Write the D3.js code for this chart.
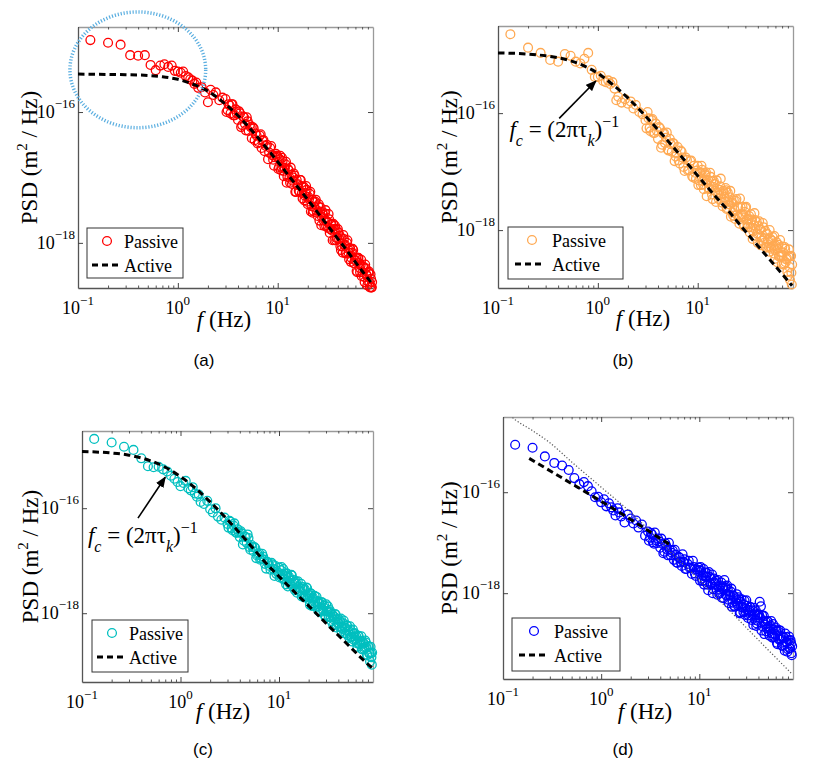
<!DOCTYPE html>
<html>
<head>
<meta charset="utf-8">
<script src="https://cdnjs.cloudflare.com/ajax/libs/d3/7.8.5/d3.min.js"></script>
<style>
  body { margin: 0; background: #fff; }
  svg { display: block; }
</style>
</head>
<body>
<div id="container"></div>
<script>
// frequency bins (Hz), shared by the four spectra
const freqHz = [
  0.133, 0.2, 0.267, 0.333, 0.4, 0.467, 0.533, 0.6, 0.667, 0.733, 0.8, 0.867, 0.933,
  1.0, 1.07, 1.13, 1.2, 1.27, 1.33, 1.4, 1.47, 1.53, 1.6, 1.73, 1.87, 2.0, 2.13, 2.27, 2.4, 2.6, 2.8,
  3.0, 3.15, 3.3, 3.45, 3.6, 3.8, 4.0, 4.2, 4.4, 4.6, 4.8, 5.0, 5.25, 5.5, 5.75, 6.0, 6.3, 6.6, 6.9, 7.2, 7.6, 8.0, 8.4, 8.8, 9.2, 9.6,
  10, 10.3, 10.6, 10.9, 11.2, 11.5, 11.8, 12.1, 12.5, 12.9, 13.3, 13.7, 14.1, 14.5, 15, 15.5, 16, 16.5, 17, 17.5,
  18, 18.5, 19, 19.5, 20, 20.6, 21.2, 21.8, 22.4, 23, 23.7, 24.4, 25.1, 25.8, 26.5, 27.3, 28.1, 28.9, 29.7, 30.5,
  31.4, 32.3, 33.2, 34.1, 35, 36, 37, 38, 39, 40, 41.2, 42.4, 43.6, 44.8, 46, 47.3, 48.6, 49.9, 51.2, 52.5,
  54, 55.5, 57, 58.5, 60, 61.7, 63.4, 65.1, 66.8, 68.5, 70.4, 72.3, 74.2, 76.1, 78, 80, 82, 84, 86, 87.5
];
// the denser bins in between, above 3 Hz
const freqFillHz = [
  3.07, 3.22, 3.37, 3.52, 3.7, 3.9, 4.1, 4.3, 4.5, 4.7, 4.9, 5.12, 5.37, 5.62, 5.87, 6.15, 6.45, 6.75, 7.05, 7.4, 7.8, 8.2, 8.6, 9.0, 9.4, 9.8,
  10.15, 10.45, 10.75, 11.05, 11.35, 11.65, 11.95, 12.3, 12.7, 13.1, 13.5, 13.9, 14.3, 14.75, 15.25, 15.75, 16.25, 16.75, 17.25, 17.75,
  18.25, 18.75, 19.25, 19.75, 20.3, 20.9, 21.5, 22.1, 22.7, 23.35, 24.05, 24.75, 25.45, 26.15, 26.9, 27.7, 28.5, 29.3, 30.1, 30.95,
  31.85, 32.75, 33.65, 34.55, 35.5, 36.5, 37.5, 38.5, 39.5, 40.6, 41.8, 43, 44.2, 45.4, 46.65, 47.95, 49.25, 50.55, 51.85, 53.25,
  54.75, 56.25, 57.75, 59.25, 60.85, 62.55, 64.25, 65.95, 67.65, 69.45, 71.35, 73.25, 75.15, 77.05, 79, 81, 83, 85, 86.75, 88.2
];

// passive PSD, log10 of m^2/Hz
const passiveA = [
  -14.90, -14.94, -14.97, -15.13, -15.14, -15.13, -15.28, -15.36, -15.29, -15.27, -15.31, -15.29, -15.37,
  -15.38, -15.40, -15.38, -15.45, -15.47, -15.50, -15.52, -15.57, -15.55, -15.63, -15.62, -15.70, -15.85, -15.66, -15.74, -15.70, -15.82, -15.78,
  -15.80, -15.97, -15.90, -15.88, -16.05, -15.96, -16.12, -16.02, -16.20, -16.08, -16.28, -16.14, -16.20, -16.40, -16.25, -16.33, -16.48, -16.36, -16.55, -16.43, -16.52, -16.72, -16.55, -16.66, -16.82, -16.64,
  -16.69, -16.84, -16.67, -16.84, -16.75, -16.98, -16.86, -16.76, -16.99, -16.89, -17.08, -16.96, -17.05, -16.94, -17.22, -17.04, -17.12, -17.22, -17.04, -17.24,
  -17.14, -17.35, -17.24, -17.19, -17.41, -17.33, -17.22, -17.44, -17.54, -17.38, -17.37, -17.50, -17.59, -17.41, -17.52, -17.73, -17.53, -17.66, -17.55, -17.74,
  -17.68, -17.56, -17.85, -17.72, -17.81, -17.71, -17.96, -17.79, -17.93, -17.79, -17.94, -18.05, -17.93, -18.15, -17.94, -18.03, -18.15, -17.96, -18.15, -18.08,
  -18.29, -18.15, -18.11, -18.31, -18.27, -18.43, -18.23, -18.31, -18.45, -18.26, -18.45, -18.37, -18.60, -18.39, -18.50, -18.59, -18.44, -18.68, -18.55, -18.68
];
const passiveFillA = [
  -16.00, -15.88, -16.02, -15.88, -16.05, -16.02, -15.99, -16.23, -16.07, -16.18, -16.08, -16.29, -16.23, -16.23, -16.43, -16.36, -16.46, -16.34, -16.44, -16.60, -16.50, -16.62, -16.52, -16.73, -16.69, -16.67,
  -16.87, -16.72, -16.89, -16.70, -16.90, -16.85, -16.80, -17.08, -16.87, -17.00, -16.85, -17.10, -17.00, -16.97, -17.22, -17.10, -17.20, -17.04, -17.13, -17.32,
  -17.15, -17.28, -17.13, -17.37, -17.30, -17.25, -17.52, -17.34, -17.51, -17.45, -17.34, -17.54, -17.44, -17.66, -17.46, -17.60, -17.57, -17.74, -17.50, -17.67,
  -17.77, -17.64, -17.79, -17.71, -17.96, -17.79, -17.74, -17.96, -17.92, -17.84, -17.89, -18.11, -18.05, -17.88, -18.04, -18.16, -18.00, -18.09, -18.25, -18.09,
  -18.23, -18.09, -18.31, -18.26, -18.23, -18.45, -18.23, -18.38, -18.34, -18.51, -18.36, -18.52, -18.33, -18.48, -18.65, -18.46, -18.61, -18.48, -18.68, -18.60
];
const passiveB = [
  -14.65, -14.88, -14.97, -15.09, -15.12, -14.99, -15.02, -15.12, -15.15, -15.07, -14.97, -15.26, -15.38,
  -15.38, -15.36, -15.45, -15.47, -15.44, -15.50, -15.47, -15.58, -15.78, -15.72, -15.82, -15.76, -15.84, -15.80, -15.92, -15.86, -15.98, -16.02,
  -16.12, -15.98, -16.25, -16.12, -16.34, -16.18, -16.44, -16.26, -16.54, -16.34, -16.42, -16.62, -16.44, -16.66, -16.52, -16.74, -16.58, -16.86, -16.66, -16.92, -16.76, -16.98, -16.82, -17.08, -16.90, -17.12,
  -16.90, -17.15, -17.02, -16.90, -17.16, -17.30, -17.03, -17.01, -17.19, -17.30, -17.02, -17.16, -17.47, -17.16, -17.33, -17.15, -17.41, -17.31, -17.12, -17.53,
  -17.33, -17.44, -17.28, -17.64, -17.36, -17.56, -17.33, -17.54, -17.70, -17.49, -17.81, -17.47, -17.60, -17.77, -17.46, -17.73, -17.60, -17.91, -17.69, -17.60,
  -17.89, -17.81, -18.04, -17.73, -17.82, -18.02, -17.71, -17.99, -17.86, -18.22, -17.85, -17.99, -18.12, -17.88, -18.22, -18.01, -18.30, -18.07, -18.28, -18.00,
  -18.29, -18.18, -18.27, -18.10, -18.49, -18.21, -18.32, -18.45, -18.17, -18.44, -18.28, -18.59, -18.29, -18.55, -18.48, -18.78, -18.33, -18.85, -18.44, -18.93
];
const passiveFillB = [
  -16.26, -16.09, -16.31, -16.10, -16.34, -16.30, -16.24, -16.59, -16.35, -16.51, -16.33, -16.64, -16.53, -16.51, -16.82, -16.69, -16.81, -16.64, -16.76, -16.99, -16.80, -16.97, -16.81, -17.10, -17.02, -16.98,
  -17.23, -17.01, -17.23, -16.97, -17.22, -17.14, -17.06, -17.42, -17.14, -17.29, -17.09, -17.39, -17.26, -17.21, -17.52, -17.36, -17.47, -17.25, -17.37, -17.59,
  -17.37, -17.52, -17.32, -17.62, -17.51, -17.44, -17.77, -17.53, -17.75, -17.65, -17.50, -17.74, -17.61, -17.89, -17.61, -17.78, -17.73, -17.94, -17.62, -17.82,
  -17.95, -17.76, -17.95, -17.84, -18.15, -17.92, -17.83, -18.11, -18.06, -17.93, -17.99, -18.26, -18.18, -17.95, -18.14, -18.29, -18.06, -18.17, -18.37, -18.15,
  -18.32, -18.12, -18.40, -18.33, -18.27, -18.55, -18.25, -18.44, -18.38, -18.58, -18.38, -18.57, -18.32, -18.50, -18.71, -18.45, -18.63, -18.45, -18.73, -18.59
];
const passiveC = [
  -14.68, -14.75, -14.83, -14.89, -15.05, -15.20, -15.22, -15.21, -15.26, -15.30, -15.38, -15.44, -15.50,
  -15.58, -15.52, -15.48, -15.62, -15.66, -15.60, -15.72, -15.78, -15.74, -15.88, -15.92, -15.86, -16.02, -16.08, -16.00, -16.16, -16.22, -16.18,
  -16.30, -16.24, -16.38, -16.33, -16.45, -16.40, -16.55, -16.48, -16.62, -16.55, -16.50, -16.74, -16.70, -16.82, -16.76, -16.90, -16.86, -16.96, -16.92, -17.06, -17.02, -17.10, -17.04, -17.16, -17.10, -17.20,
  -17.13, -17.26, -17.12, -17.26, -17.36, -17.25, -17.45, -17.25, -17.33, -17.44, -17.27, -17.44, -17.37, -17.56, -17.44, -17.39, -17.57, -17.53, -17.68, -17.50,
  -17.56, -17.69, -17.51, -17.69, -17.62, -17.84, -17.63, -17.72, -17.81, -17.67, -17.88, -17.77, -17.95, -17.82, -17.95, -17.79, -17.95, -17.86, -18.07, -17.96,
  -17.87, -18.07, -17.98, -18.15, -18.04, -18.12, -18.02, -18.27, -18.11, -18.18, -18.26, -18.10, -18.28, -18.19, -18.38, -18.27, -18.23, -18.42, -18.35, -18.25,
  -18.45, -18.54, -18.39, -18.38, -18.50, -18.57, -18.43, -18.59, -18.54, -18.44, -18.69, -18.58, -18.65, -18.56, -18.79, -18.63, -18.76, -18.92, -18.76, -18.98
];
const passiveFillC = [
  -16.37, -16.26, -16.42, -16.29, -16.47, -16.46, -16.44, -16.69, -16.54, -16.66, -16.57, -16.79, -16.74, -16.74, -16.95, -16.88, -16.98, -16.87, -16.98, -17.15, -17.05, -17.17, -17.07, -17.29, -17.25, -17.23,
  -17.32, -17.18, -17.33, -17.16, -17.34, -17.29, -17.24, -17.49, -17.31, -17.42, -17.28, -17.50, -17.41, -17.39, -17.61, -17.50, -17.58, -17.44, -17.53, -17.69,
  -17.54, -17.65, -17.52, -17.73, -17.66, -17.62, -17.86, -17.70, -17.85, -17.79, -17.69, -17.87, -17.78, -17.98, -17.79, -17.92, -17.89, -18.04, -17.83, -17.97,
  -18.06, -17.94, -18.08, -18.01, -18.23, -18.07, -18.02, -18.22, -18.19, -18.11, -18.16, -18.35, -18.30, -18.14, -18.28, -18.39, -18.24, -18.32, -18.47, -18.32,
  -18.45, -18.31, -18.51, -18.47, -18.44, -18.64, -18.43, -18.57, -18.53, -18.68, -18.55, -18.68, -18.52, -18.65, -18.80, -18.63, -18.76, -18.64, -18.84, -18.75
];
const passiveD = [
  -15.06, -15.12, -15.29, -15.42, -15.47, -15.56, -15.72, -15.84, -15.80, -15.88, -15.98, -16.10, -16.09,
  -16.20, -16.14, -16.28, -16.22, -16.30, -16.36, -16.46, -16.32, -16.40, -16.48, -16.60, -16.44, -16.52, -16.62, -16.56, -16.70, -16.64, -16.86,
  -16.78, -16.90, -16.84, -17.02, -16.95, -16.92, -17.10, -17.02, -17.18, -17.06, -17.25, -17.14, -17.20, -17.34, -17.24, -17.40, -17.30, -17.46, -17.38, -17.52, -17.42, -17.50, -17.62, -17.48, -17.66, -17.56,
  -17.54, -17.48, -17.71, -17.65, -17.83, -17.59, -17.67, -17.83, -17.58, -17.81, -17.71, -18.00, -17.71, -17.82, -17.93, -17.74, -18.01, -17.85, -18.09, -17.90,
  -17.74, -17.86, -18.05, -17.93, -18.20, -18.05, -17.91, -18.19, -18.05, -18.27, -18.12, -18.21, -18.08, -18.40, -18.17, -18.27, -18.37, -18.15, -18.37, -18.25,
  -18.49, -18.34, -18.28, -18.53, -18.42, -18.29, -18.53, -18.65, -18.44, -18.42, -18.17, -18.26, -18.44, -18.56, -18.81, -18.56, -18.70, -18.56, -18.77, -18.70,
  -18.55, -18.88, -18.72, -18.81, -18.68, -18.98, -18.76, -18.92, -18.74, -18.91, -19.04, -18.88, -19.14, -18.87, -18.97, -19.11, -18.86, -19.09, -18.99, -19.23
];
const passiveFillD = [
  -16.96, -16.81, -16.99, -16.80, -17.01, -16.97, -16.92, -17.21, -17.01, -17.14, -17.00, -17.25, -17.16, -17.14, -17.39, -17.28, -17.38, -17.23, -17.33, -17.52, -17.36, -17.49, -17.36, -17.61, -17.53, -17.49,
  -17.75, -17.56, -17.76, -17.52, -17.75, -17.68, -17.60, -17.94, -17.68, -17.82, -17.63, -17.92, -17.79, -17.75, -18.03, -17.88, -17.99, -17.79, -17.89, -18.10,
  -17.89, -18.03, -17.85, -18.13, -18.03, -17.97, -18.27, -18.05, -18.25, -18.16, -18.02, -18.25, -18.12, -18.38, -18.12, -18.29, -18.23, -18.43, -18.14, -18.33,
  -18.44, -18.27, -18.44, -18.34, -18.63, -18.42, -18.34, -18.60, -18.55, -18.43, -18.49, -18.74, -18.66, -18.45, -18.62, -18.76, -18.55, -18.66, -18.84, -18.64,
  -18.80, -18.61, -18.87, -18.81, -18.75, -19.01, -18.73, -18.91, -18.85, -19.04, -18.86, -19.03, -18.80, -18.97, -19.16, -18.93, -19.09, -18.93, -19.19, -19.05
];

// active (fitted) curves
const activeFreqA = [0.1, 0.3, 0.5, 0.7, 1, 1.5, 2, 3, 5, 7, 10, 15, 20, 30, 50, 70, 88];
const activeA = [-15.42, -15.43, -15.44, -15.46, -15.50, -15.59, -15.68, -15.88, -16.21, -16.47, -16.76, -17.10, -17.34, -17.69, -18.13, -18.43, -18.62];
const activeFreqBC = [0.1, 0.2, 0.3, 0.5, 0.7, 1, 1.5, 2, 3, 5, 7, 10, 15, 20, 30, 50, 70, 88];
const activeB = [-14.97, -14.99, -15.02, -15.09, -15.18, -15.32, -15.55, -15.74, -16.05, -16.47, -16.76, -17.07, -17.42, -17.66, -18.02, -18.46, -18.75, -18.95];
const activeC = [-14.92, -14.95, -14.99, -15.10, -15.22, -15.40, -15.66, -15.88, -16.22, -16.68, -17.00, -17.30, -17.63, -17.86, -18.19, -18.60, -18.87, -19.04];
const activeFreqD = [0.185, 0.5, 1, 2, 3, 5.3];
const activeD = [-15.33, -15.83, -16.18, -16.54, -16.76, -17.07];

// dotted reference curve in (d)
const guideFreqD = [0.1, 0.13, 0.2, 0.3, 0.5, 1, 2, 5, 10, 20, 50, 88];
const guideD = [-14.35, -14.55, -14.78, -15.02, -15.40, -15.90, -16.40, -17.17, -17.74, -18.33, -19.12, -19.60];

// annotations: highlighted region in (a), arrows to f_c in (b) and (c)
const ringFreqA = [0.083, 1.9];
const ringPsdA = [-16.24, -14.47];
const arrowB = [[0.41, -16.09], [0.955, -15.45]];
const arrowC = [[0.37, -16.19], [0.70, -15.41]];
const formulaPosB = [0.13, -16.41];
const formulaPosC = [0.115, -16.67];

const xTicks = [0.1, 1, 10];
const xTickExp = ["\u22121", "0", "1"];
const yTicks = [-16, -18];
const yTickExp = ["\u221216", "\u221218"];
const legendNames = ["Passive", "Active"];

const serif = "'Liberation Serif', 'Times New Roman', serif";

const svg = d3.select("#container")
  .append("svg")
  .attr("width", 831)
  .attr("height", 775);

const defs = svg.append("defs");
defs.append("marker")
  .attr("id", "head")
  .attr("viewBox", "0 0 10 8")
  .attr("refX", 9)
  .attr("refY", 4)
  .attr("markerUnits", "userSpaceOnUse")
  .attr("markerWidth", 11)
  .attr("markerHeight", 8.8)
  .attr("orient", "auto")
  .append("path")
  .attr("d", "M0,0 L10,4 L0,8 Z")
  .attr("fill", "#000");

const panels = [
  { id: "a", name: "(a)", passive: passiveA, fill: passiveFillA, color: "#ff0000", activeF: activeFreqA, active: activeA,
    left: 78, right: 373, top: 27, bottom: 288, yMin: -18.69, yMax: -14.70,
    yLabelX: 37, xLabelX: 224, xLabelY: 327, nameX: 204, nameY: 366,
    legend: { x: 87, y: 228, w: 96, h: 50, mx: 107, tx: 124, lx1: 92, lx2: 122 } },
  { id: "b", name: "(b)", passive: passiveB, fill: passiveFillB, color: "#ffa952", activeF: activeFreqBC, active: activeB,
    left: 498, right: 793, top: 26, bottom: 288, yMin: -18.99, yMax: -14.51,
    yLabelX: 457, xLabelX: 643, xLabelY: 326, nameX: 623, nameY: 366,
    legend: { x: 508, y: 227, w: 115, h: 52, mx: 532, tx: 552, lx1: 515, lx2: 543 },
    arrow: arrowB, formula: formulaPosB },
  { id: "c", name: "(c)", passive: passiveC, fill: passiveFillC, color: "#00bfbf", activeF: activeFreqBC, active: activeC,
    left: 82, right: 373, top: 431, bottom: 682, yMin: -19.31, yMax: -14.53,
    yLabelX: 38, xLabelX: 223, xLabelY: 719, nameX: 203, nameY: 755,
    legend: { x: 92, y: 620, w: 96, h: 52, mx: 112, tx: 129, lx1: 97, lx2: 126 },
    arrow: arrowC, formula: formulaPosC },
  { id: "d", name: "(d)", passive: passiveD, fill: passiveFillD, color: "#0000ff", activeF: activeFreqD, active: activeD,
    left: 503, right: 793, top: 417, bottom: 679, yMin: -19.70, yMax: -14.51,
    yLabelX: 457, xLabelX: 645, xLabelY: 719, nameX: 623, nameY: 755,
    legend: { x: 512, y: 618, w: 108, h: 53, mx: 534, tx: 554, lx1: 519, lx2: 547 },
    guide: true }
];

panels.forEach(drawPanel);

function drawPanel(p) {
  const g = svg.append("g");
  const pow = (e) => Math.pow(10, e);

  const x = d3.scaleLog()
    .domain([0.1, 90])
    .range([p.left, p.right]);
  const y = d3.scaleLog()
    .domain([pow(p.yMin), pow(p.yMax)])
    .range([p.bottom, p.top]);

  const minorX = [];
  [0.1, 1, 10].forEach(dec => {
    for (let m = 2; m <= 9; m++) if (dec * m < 90) minorX.push(dec * m);
  });

  // box with inward ticks
  const axes = [
    { ax: d3.axisBottom(x), t: "translate(0," + p.bottom + ")", c: "#555", v: xTicks, mv: minorX },
    { ax: d3.axisTop(x), t: "translate(0," + p.top + ")", c: "#9a9a9a", v: xTicks, mv: minorX },
    { ax: d3.axisLeft(y), t: "translate(" + p.left + ",0)", c: "#555", v: yTicks.map(pow), mv: [] },
    { ax: d3.axisRight(y), t: "translate(" + p.right + ",0)", c: "#9a9a9a", v: yTicks.map(pow), mv: [] }
  ];
  axes.forEach(a => {
    const major = g.append("g")
      .attr("transform", a.t)
      .call(a.ax.tickValues(a.v).tickSizeInner(-5).tickSizeOuter(0).tickFormat(""));
    major.select(".domain").attr("stroke", a.c).attr("stroke-width", 1.3);
    major.selectAll(".tick line").attr("stroke", "#444");
    if (a.mv.length) {
      const minor = g.append("g")
        .attr("transform", a.t)
        .call(a.ax.tickValues(a.mv).tickSizeInner(-2.5).tickSizeOuter(0).tickFormat(""));
      minor.select(".domain").remove();
      minor.selectAll(".tick line").attr("stroke", "#555");
    }
  });

  // tick labels as 10 with superscript exponents
  xTicks.forEach((v, i) => {
    const t = g.append("text")
      .attr("x", x(v))
      .attr("y", p.bottom + 26)
      .attr("text-anchor", "middle")
      .attr("font-family", serif)
      .attr("font-size", 18);
    t.append("tspan").text("10");
    t.append("tspan").attr("dy", -9).attr("font-size", 13).text(xTickExp[i]);
  });
  yTicks.forEach((v, i) => {
    const t = g.append("text")
      .attr("x", p.left - 3)
      .attr("y", y(pow(v)) + 6)
      .attr("text-anchor", "end")
      .attr("font-family", serif)
      .attr("font-size", 18);
    t.append("tspan").text("10");
    t.append("tspan").attr("dy", -10).attr("font-size", 13).text(yTickExp[i]);
  });

  // axis titles
  const yl = g.append("text")
    .attr("transform", "translate(" + p.yLabelX + "," + (p.top + p.bottom) / 2 + ") rotate(-90)")
    .attr("text-anchor", "middle")
    .attr("font-family", serif)
    .attr("font-size", 23);
  yl.append("tspan").text("PSD (m");
  yl.append("tspan").attr("dy", -10).attr("font-size", 15).text("2");
  yl.append("tspan").attr("dy", 10).text(" / Hz)");

  const xl = g.append("text")
    .attr("x", p.xLabelX)
    .attr("y", p.xLabelY)
    .attr("text-anchor", "middle")
    .attr("font-family", serif)
    .attr("font-size", 23);
  xl.append("tspan").attr("font-style", "italic").text("f");
  xl.append("tspan").text(" (Hz)");

  g.append("text")
    .attr("x", p.nameX)
    .attr("y", p.nameY)
    .attr("text-anchor", "middle")
    .attr("font-family", "'Liberation Sans', Arial, sans-serif")
    .attr("font-size", 17)
    .text(p.name);

  // passive spectrum
  const pts = d3.zip(freqHz, p.passive).concat(d3.zip(freqFillHz, p.fill));
  g.append("g")
    .selectAll("circle")
    .data(pts)
    .enter()
    .append("circle")
    .attr("cx", d => x(d[0]))
    .attr("cy", d => y(pow(d[1])))
    .attr("r", 4.4)
    .attr("fill", "none")
    .attr("stroke", p.color)
    .attr("stroke-width", 1.3);

  const line = d3.line()
    .x(d => x(d[0]))
    .y(d => y(pow(d[1])))
    .curve(d3.curveMonotoneX);

  if (p.guide) {
    defs.append("clipPath")
      .attr("id", "clip-" + p.id)
      .append("rect")
      .attr("x", p.left)
      .attr("y", p.top)
      .attr("width", p.right - p.left)
      .attr("height", p.bottom - p.top);
    g.append("path")
      .datum(d3.zip(guideFreqD, guideD))
      .attr("clip-path", "url(#clip-" + p.id + ")")
      .attr("d", line)
      .attr("fill", "none")
      .attr("stroke", "#555")
      .attr("stroke-width", 1.2)
      .attr("stroke-dasharray", "1.2,2");
  }

  // active fit
  g.append("path")
    .datum(d3.zip(p.activeF, p.active))
    .attr("d", line)
    .attr("fill", "none")
    .attr("stroke", "#000")
    .attr("stroke-width", 3)
    .attr("stroke-dasharray", "6.5,4");

  if (p.id === "a") {
    const x0 = x(ringFreqA[0]), x1 = x(ringFreqA[1]);
    const y0 = y(pow(ringPsdA[1])), y1 = y(pow(ringPsdA[0]));
    g.append("ellipse")
      .attr("cx", (x0 + x1) / 2)
      .attr("cy", (y0 + y1) / 2)
      .attr("rx", (x1 - x0) / 2)
      .attr("ry", (y1 - y0) / 2)
      .attr("fill", "none")
      .attr("stroke", "#5aaee0")
      .attr("stroke-width", 3.5)
      .attr("stroke-dasharray", "1.2,1.8");
  }

  if (p.arrow) {
    g.append("line")
      .attr("x1", x(p.arrow[0][0]))
      .attr("y1", y(pow(p.arrow[0][1])))
      .attr("x2", x(p.arrow[1][0]))
      .attr("y2", y(pow(p.arrow[1][1])))
      .attr("stroke", "#000")
      .attr("stroke-width", 1.6)
      .attr("marker-end", "url(#head)");

    const f = g.append("text")
      .attr("x", x(p.formula[0]))
      .attr("y", y(pow(p.formula[1])))
      .attr("font-family", serif)
      .attr("font-size", 23);
    f.append("tspan").attr("font-style", "italic").text("f");
    f.append("tspan").attr("font-style", "italic").attr("font-size", 16).attr("dy", 9).text("c");
    f.append("tspan").attr("dy", -9).text(" = (2\u03c0\u03c4");
    f.append("tspan").attr("font-style", "italic").attr("font-size", 16).attr("dy", 9).text("k");
    f.append("tspan").attr("dy", -9).text(")");
    f.append("tspan").attr("font-size", 16).attr("dy", -10).text("\u22121");
  }

  // legend
  const L = p.legend;
  const lg = g.append("g");
  lg.append("rect")
    .attr("x", L.x)
    .attr("y", L.y)
    .attr("width", L.w)
    .attr("height", L.h)
    .attr("fill", "#fff")
    .attr("stroke", "#333")
    .attr("stroke-width", 1);
  lg.append("circle")
    .attr("cx", L.mx)
    .attr("cy", L.y + 13)
    .attr("r", 4.4)
    .attr("fill", "none")
    .attr("stroke", p.color)
    .attr("stroke-width", 1.3);
  lg.append("line")
    .attr("x1", L.lx1)
    .attr("x2", L.lx2)
    .attr("y1", L.y + 37)
    .attr("y2", L.y + 37)
    .attr("stroke", "#000")
    .attr("stroke-width", 3)
    .attr("stroke-dasharray", "6,4");
  lg.selectAll("text")
    .data(legendNames)
    .enter()
    .append("text")
    .attr("x", L.tx)
    .attr("y", (d, i) => L.y + 20 + i * 24)
    .attr("font-family", serif)
    .attr("font-size", 18)
    .text(d => d);
}
</script>
</body>
</html>
